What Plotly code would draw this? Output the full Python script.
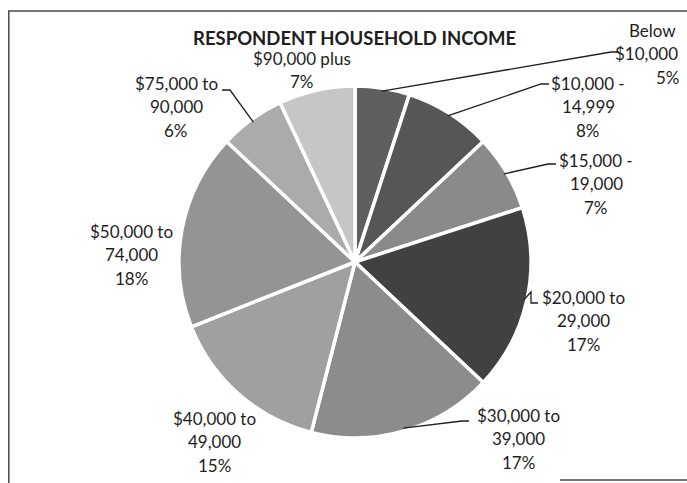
import math
import plotly.graph_objects as go

W, H = 687, 483

categories = ["Below $10,000", "$10,000 - 14,999", "$15,000 - 19,000", "$20,000 to 29,000",
              "$30,000 to 39,000", "$40,000 to 49,000", "$50,000 to 74,000",
              "$75,000 to 90,000", "$90,000 plus"]
values = [5, 8, 7, 17, 17, 15, 18, 6, 7]
colors = ["#5f5f5f", "#565656", "#8a8a8a", "#414141", "#8c8c8c", "#a0a0a0",
          "#949494", "#ababab", "#c6c6c6"]

# label text lines (as printed on the chart)
label_lines = [
    ["Below", "$10,000", "5%"],
    ["$10,000 -", "14,999", "8%"],
    ["$15,000 -", "19,000", "7%"],
    ["$20,000 to", "29,000", "17%"],
    ["$30,000 to", "39,000", "17%"],
    ["$40,000 to", "49,000", "15%"],
    ["$50,000 to", "74,000", "18%"],
    ["$75,000 to", "90,000", "6%"],
    ["$90,000 plus", "7%"],
]

# layout in pixels: pie centre/radius
CX, CY, R = 355, 262, 176
label_pos = [
    (650, 30, [2, -4, 18]),
    (588, 83, [0, 0, 0]),
    (596, 160, [0, 0, 0]),
    (583, 297, [0, 0, 0]),
    (518, 415, [0, 0, 0]),
    (214, 418, [0, 0, 0]),
    (131, 231, [0, 0, 0]),
    (176, 83, [0, 0, 0]),
    (302, 58, [0, 0]),
]
leaders = [
    [(611, 52), (619, 52)],
    [(541, 84), (549, 84)],
    [(548, 164), (556, 164)],
    [(531, 292), (531, 303), (538, 303)],
    [(462, 421), (469, 421)],
    None,
    None,
    [(230, 90), (222, 90)],
    None,
]
LINE_STEP = 23.5
FONT = "Lato"
INK = "#1e1e1e"


def px(x, y):
    return x / W, 1 - y / H


fig = go.Figure()
fig.add_trace(go.Pie(
    labels=categories, values=values, sort=False, direction="clockwise", rotation=0,
    marker=dict(colors=colors, line=dict(color="white", width=3.5)),
    textinfo="none", hoverinfo="label+percent", showlegend=False,
    domain=dict(x=[px(CX - R, 0)[0], px(CX + R, 0)[0]],
                y=[px(0, CY + R)[1], px(0, CY - R)[1]]),
))

annotations = []
shapes = []
total = sum(values)
cum = 0
for i, v in enumerate(values):
    mid = (cum + v / 2) / total * 2 * math.pi
    cum += v
    ex = CX + (R - 3) * math.sin(mid)
    ey = CY - (R - 3) * math.cos(mid)
    lx, ly, offs = label_pos[i]
    for j, t in enumerate(label_lines[i]):
        x, y = px(lx + offs[j], ly + j * LINE_STEP)
        annotations.append(dict(x=x, y=y, xref="paper", yref="paper", text=t, showarrow=False,
                                xanchor="center", yanchor="middle",
                                font=dict(family=FONT, size=17, color=INK)))
    if leaders[i]:
        pts = [(ex, ey)] + leaders[i]
        path = "M " + " L ".join(f"{px(a, b)[0]},{px(a, b)[1]}" for a, b in pts)
        shapes.append(dict(type="path", path=path, xref="paper", yref="paper",
                           line=dict(color=INK, width=1.3)))

# frame (scanned border: left, top, part of bottom)
frame = [[(8.8, 483), (8.8, 11), (690, 11)], [(560, 480), (690, 480)]]
for seg in frame:
    path = "M " + " L ".join(f"{px(a, b)[0]},{px(a, b)[1]}" for a, b in seg)
    shapes.append(dict(type="path", path=path, xref="paper", yref="paper",
                       line=dict(color="#4a4a4a", width=1.5)))

tx, ty = px(354, 38)
annotations.append(dict(x=tx, y=ty, xref="paper", yref="paper", text="<b>RESPONDENT HOUSEHOLD INCOME</b>",
                        showarrow=False, xanchor="center", yanchor="middle",
                        font=dict(family=FONT, size=18.5, color=INK)))

fig.update_layout(width=W, height=H, margin=dict(l=0, r=0, t=0, b=0),
                  paper_bgcolor="white", plot_bgcolor="white",
                  annotations=annotations, shapes=shapes)
fig.write_html("out.html", config={"displayModeBar": False},
               post_script="document.body.style.margin='0';document.body.style.overflow='hidden';")
